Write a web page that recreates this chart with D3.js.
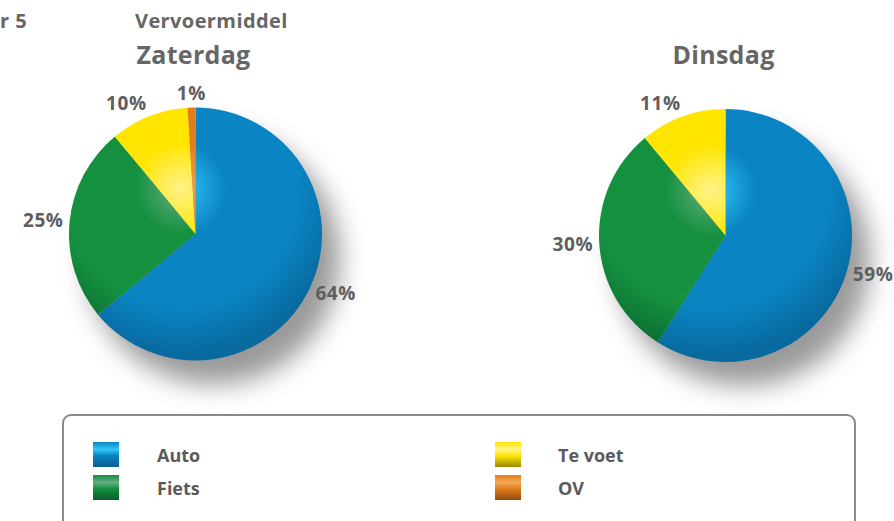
<!DOCTYPE html>
<html lang="nl">
<head>
<meta charset="utf-8">
<title>Vervoermiddel</title>
<script src="https://cdn.jsdelivr.net/npm/d3@7"></script>
<style>
  body { margin: 0; background: #fff; }
  svg text { font-family: "Open Sans", sans-serif; font-weight: 700; fill: #666; }
  .pct { font-size: 19px; letter-spacing: 0.6px; fill: #5e5e5e; }
  .legend text { font-size: 18px; fill: #5a5a5a; }
</style>
</head>
<body>
<div id="chart"></div>
<script>
// categories and values (percent), clockwise from 12 o'clock
var categories = ["Auto", "Fiets", "Te voet", "OV"];
var zaterdag = [64, 25, 10, 1];
var dinsdag = [59, 30, 11, 0];
var days = ["Zaterdag", "Dinsdag"];

var width = 894, height = 521;
var radius = 126.5;

// base / light / dark per category
var colors = {
  "Auto":    ["#0a84c2", "#30c6f7", "#086a9f"],
  "Fiets":   ["#14903f", "#66ad80", "#0b6c32"],
  "Te voet": ["#ffe500", "#fff38a", "#f0cc00"],
  "OV":      ["#e27d1c", "#f4a657", "#b85f0f"]
};
// legend swatches: darker lower end
var swatchDark = {
  "Auto": "#0a5f92", "Fiets": "#0a5d2b", "Te voet": "#9a8a00", "OV": "#8f4d0c"
};

var svg = d3.select("#chart").append("svg")
    .attr("width", width)
    .attr("height", height);

var defs = svg.append("defs");

defs.append("filter")
    .attr("id", "shadow")
    .attr("x", "-50%").attr("y", "-50%")
    .attr("width", "200%").attr("height", "200%")
  .append("feGaussianBlur")
    .attr("stdDeviation", 13);

// titles
svg.append("text").attr("x", 27).attr("y", 28).attr("text-anchor", "end")
    .style("font-size", "20px").style("letter-spacing", "0.4px").text("Figuur 5");
svg.append("text").attr("x", 135).attr("y", 28)
    .style("font-size", "20px").style("letter-spacing", "0.4px").text("Vervoermiddel");

var pies = [
  {name: days[0], values: zaterdag, cx: 195.5, cy: 234},
  {name: days[1], values: dinsdag, cx: 725.5, cy: 235.5}
];

var pie = d3.pie().sort(null).value(function(d) { return d.value; });
var arc = d3.arc().innerRadius(0).outerRadius(radius);
var labelArc = d3.arc().innerRadius(radius + 6).outerRadius(radius + 6);

// gradients, in the pie group's own coordinates (highlight up-left of centre)
categories.forEach(function(c, ci) {
  var g = defs.append("radialGradient")
      .attr("id", "g" + ci)
      .attr("gradientUnits", "userSpaceOnUse")
      .attr("cx", -15).attr("cy", -45)
      .attr("r", radius * 1.3)
      .attr("fx", -15).attr("fy", -45);
  g.append("stop").attr("offset", "0%").attr("stop-color", colors[c][1]);
  g.append("stop").attr("offset", "28%").attr("stop-color", colors[c][0]);
  g.append("stop").attr("offset", "72%").attr("stop-color", colors[c][0]);
  g.append("stop").attr("offset", "100%").attr("stop-color", colors[c][2]);
});

pies.forEach(function(p, pi) {
  svg.append("text")
      .attr("x", p.cx - 2).attr("y", 64)
      .attr("text-anchor", "middle")
      .style("font-size", "25px")
      .style("letter-spacing", "0.3px")
      .text(p.name);

  var data = categories.map(function(c, i) { return {cat: c, idx: i, value: p.values[i]}; });

  var gp = svg.append("g").attr("transform", "translate(" + p.cx + "," + p.cy + ")");

  gp.append("circle")
      .attr("cx", 18).attr("cy", 24).attr("r", radius)
      .attr("fill", "#808080")
      .attr("opacity", 0.8)
      .attr("filter", "url(#shadow)");

  var arcs = pie(data).filter(function(d) { return d.data.value > 0; });

  gp.selectAll("path.slice")
    .data(arcs)
    .enter().append("path")
      .attr("class", "slice")
      .attr("d", arc)
      .attr("fill", function(d) { return "url(#g" + d.data.idx + ")"; });

  gp.selectAll("text.pct")
    .data(arcs)
    .enter().append("text")
      .attr("class", "pct")
      .attr("transform", function(d) {
        var c = labelArc.centroid(d);
        var a = (d.startAngle + d.endAngle) / 2;
        return "translate(" + c[0] + "," + (c[1] - 8 * Math.cos(a)) + ")";
      })
      .attr("text-anchor", function(d) {
        var x = labelArc.centroid(d)[0];
        return x > 10 ? "start" : (x < -10 ? "end" : "middle");
      })
      .attr("dy", "0.35em")
      .text(function(d) { return d.data.value + "%"; });
});

// legend
var legend = svg.append("g").attr("class", "legend");
legend.append("rect")
    .attr("x", 63).attr("y", 415)
    .attr("width", 792).attr("height", 140)
    .attr("rx", 8)
    .attr("fill", "#fff")
    .attr("stroke", "#8a8a8a")
    .attr("stroke-width", 2);

categories.forEach(function(c, ci) {
  var lg = defs.append("linearGradient")
      .attr("id", "lg" + ci)
      .attr("x1", 0).attr("y1", 0).attr("x2", 0).attr("y2", 1);
  lg.append("stop").attr("offset", "0%").attr("stop-color", colors[c][0]);
  lg.append("stop").attr("offset", "30%").attr("stop-color", colors[c][1]);
  lg.append("stop").attr("offset", "55%").attr("stop-color", colors[c][0]);
  lg.append("stop").attr("offset", "100%").attr("stop-color", swatchDark[c]);
});

var col = d3.scaleOrdinal().domain([0, 1]).range([93, 495]);
var row = d3.scaleOrdinal().domain([0, 1]).range([442, 475]);

var items = legend.selectAll("g.item")
  .data(categories)
  .enter().append("g")
    .attr("class", "item")
    .attr("transform", function(d, i) {
      return "translate(" + col(i < 2 ? 0 : 1) + "," + row(i % 2) + ")";
    });

items.append("rect")
    .attr("width", 26).attr("height", 25)
    .attr("fill", function(d, i) { return "url(#lg" + i + ")"; });

items.append("text")
    .attr("x", function(d, i) { return i < 2 ? 64 : 63; })
    .attr("y", 20)
    .text(function(d) { return d; });
</script>
</body>
</html>
